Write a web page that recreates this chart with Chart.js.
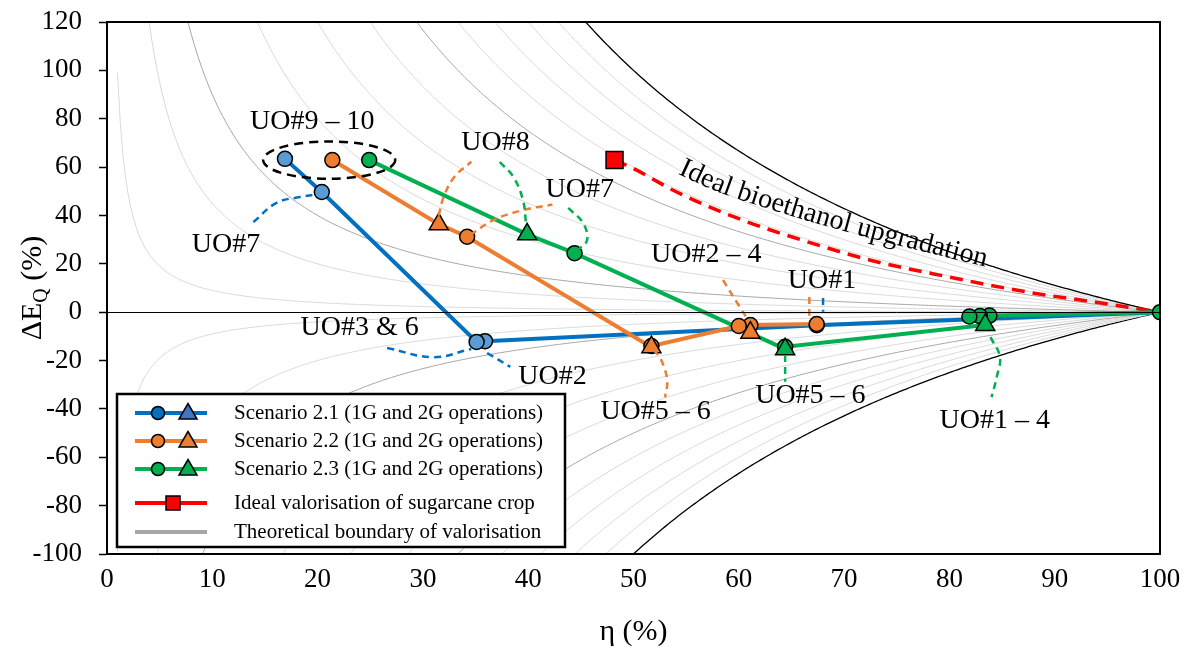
<!DOCTYPE html>
<html>
<head>
<meta charset="utf-8">
<script src="https://cdn.jsdelivr.net/npm/chart.js@4.4.1/dist/chart.umd.min.js"></script>
<style>
  html, body { margin: 0; padding: 0; background: #ffffff; }
  #wrap { width: 1192px; height: 648px; }
</style>
</head>
<body>
<div id="wrap"><canvas id="chart" width="1192" height="648"></canvas></div>
<script>
// ---- Axis ticks ----
const etaTicks = [0, 10, 20, 30, 40, 50, 60, 70, 80, 90, 100];
const deltaTicks = [-100, -80, -60, -40, -20, 0, 20, 40, 60, 80, 100, 120];

// ---- Scenario 2.1 (1G and 2G operations), from the raw crop at (100, 0) ----
const s21Eta    = [100, 67.4, 35.9, 35.1, 20.4, 16.9];
const s21DeltaQ = [0, -5.4, -12.0, -12.3, 49.7, 63.4];
const s21Shape  = ['none', 'circle', 'circle', 'circle', 'circle', 'circle'];

// ---- Scenario 2.2 ----
const s22Eta    = [67.4, 61.1, 61.1, 60.0, 51.7, 51.7, 34.2, 31.5, 21.4];
const s22DeltaQ = [-4.9, -5.3, -8.5, -5.7, -14.0, -14.5, 31.2, 36.4, 62.9];
const s22Shape  = ['circle', 'circle', 'triangle', 'circle', 'circle', 'triangle', 'circle', 'triangle', 'circle'];

// ---- Scenario 2.3 ----
const s23Eta    = [100, 83.8, 82.9, 81.9, 83.4, 64.4, 64.4, 44.4, 39.9, 24.9];
const s23DeltaQ = [0, -1.4, -1.6, -1.8, -5.3, -14.3, -15.3, 24.4, 32.2, 62.9];
const s23Shape  = ['circle', 'circle', 'circle', 'circle', 'triangle', 'circle', 'triangle', 'circle', 'triangle', 'circle'];

// ---- Ideal valorisation of the sugarcane crop (bioethanol upgradation path) ----
const idealEta    = [48.2, 50.0, 54.1, 60.4, 66.6, 72.5, 79.9, 87.3, 94.7, 100];
const idealDeltaQ = [62.9, 59.4, 49.7, 38.0, 29.0, 21.5, 14.6, 8.4, 3.6, 0];

// ---- Theoretical boundary family: ΔE_Q = k·(100/η − 1)·100 ----
const boundaryLevels = [1, 0.9, 0.8, 0.7, 0.6, 0.5, 0.4, 0.3, 0.2, 0.1, 0.05, 0.01,
                        -0.01, -0.05, -0.1, -0.2, -0.3, -0.4, -0.5, -0.6, -0.7, -0.8, -0.9, -1];
const boundaryStrong = [0.1, 0.5, -0.1, -0.5];

// ---- Call-out leaders [η, ΔE_Q] ----
const leadUO8Orange   = [[31.5, 40.0], [32.0, 48.0], [33.0, 56.0], [34.6, 62.2]];
const leadUO8Green    = [[37.3, 62.1], [38.6, 55.9], [39.5, 46.4], [39.8, 36.5]];
const leadUO7Orange   = [[34.5, 31.9], [36.7, 38.1], [39.5, 42.2], [42.3, 44.5]];
const leadUO7Green    = [[43.8, 43.1], [45.2, 36.9], [45.6, 29.9], [44.8, 26.0]];
const leadUO7Blue     = [[13.9, 37.3], [16.1, 45.2], [18.3, 47.6], [19.8, 48.6]];
const leadUO36Blue    = [[26.6, -14.8], [31.0, -18.6], [34.6, -15.2]];
const leadUO2Blue     = [[36.1, -16.9], [38.3, -22.6]];
const leadUO24Orange  = [[58.5, 13.3], [60.1, 2.1], [60.9, -3.3]];
const leadUO1Orange   = [[66.7, 6.3], [66.7, -2.4]];
const leadUO1Blue     = [[68.0, 5.9], [68.0, 0.2]];
const leadUO56Orange  = [[51.9, -15.5], [52.6, -19.5], [53.2, -28.2], [53.0, -35.2]];
const leadUO56Green   = [[64.4, -17.7], [64.4, -28.8]];
const leadUO14Green   = [[83.9, -10.3], [84.8, -18.5], [84.5, -26.8], [84.0, -35.1]];

// ---- Call-out texts [label, η, ΔE_Q] ----
const calloutText = ['UO#9 – 10', 'UO#8', 'UO#7', 'UO#7', 'UO#3 & 6', 'UO#2', 'UO#2 – 4', 'UO#1', 'UO#5 – 6', 'UO#5 – 6', 'UO#1 – 4'];
const calloutEta  = [19.5, 36.9, 44.9, 11.3, 24.0, 42.3, 56.9, 67.9, 52.1, 66.8, 84.3];
const calloutDQ   = [78.6, 70.0, 50.5, 27.8, -6.5, -26.8, 23.7, 12.9, -41.0, -34.4, -44.9];

// UO#9 – 10 grouping ellipse: centre and half-axes in data units
const groupCentre = [21.1, 62.9];
const groupHalfAxes = [6.27, 7.7];

// Baseline of the curved "Ideal bioethanol upgradation" caption
const captionText = 'Ideal bioethanol upgradation';
const captionEta = [54.2, 59.4, 70.3, 83.9];
const captionDQ  = [57.2, 47.6, 33.2, 18.3];

const SERIF = '"Liberation Serif", "Times New Roman", serif';
const BLUE = '#0070C0', BLUE_PT = '#5B9BD5', ORANGE = '#ED7D31', GREEN = '#00B050', RED = '#FF0000';

function toXY(xs, ys) { return xs.map((x, i) => ({ x: x, y: ys[i] })); }
function pairsToXY(p) { return p.map(v => ({ x: v[0], y: v[1] })); }

function boundaryCurve(k) {
  const pts = [];
  for (let eta = 1; eta <= 100.001; eta += 0.25) {
    const v = k * (100 / eta - 1) * 100;
    if (Math.abs(v) < 3000) pts.push({ x: eta, y: v });
  }
  return pts;
}

const datasets = [];

boundaryLevels.forEach(k => {
  const strong = boundaryStrong.includes(k);
  const edge = Math.abs(k) === 1;
  datasets.push({
    data: boundaryCurve(k), showLine: true, pointRadius: 0,
    borderColor: edge ? '#000000' : (strong ? '#A6A6A6' : '#D9D9D9'),
    borderWidth: edge ? 1.3 : 1, order: 100
  });
});

datasets.push({
  data: toXY(idealEta, idealDeltaQ), showLine: true,
  borderColor: RED, borderWidth: 3.5, borderDash: [13, 8], cubicInterpolationMode: 'monotone',
  pointStyle: 'rect', pointRadius: idealEta.map((v, i) => i === 0 ? 12 : 0),
  pointBackgroundColor: RED, pointBorderColor: '#000000', pointBorderWidth: 1.5, order: 50
});

// Each scenario: the path first, markers later so every marker sits above every path
function scenarioLine(xs, ys, color, order) {
  return { data: toXY(xs, ys), showLine: true, borderColor: color, borderWidth: 4, pointRadius: 0, order: order };
}
function scenarioMarkers(xs, ys, shapes, circleFill, triFill, order) {
  return {
    data: toXY(xs, ys), showLine: false,
    pointStyle: shapes.map(s => s === 'none' ? 'circle' : s),
    pointRadius: shapes.map(s => s === 'none' ? 0 : (s === 'triangle' ? 11 : 7.5)),
    pointBackgroundColor: shapes.map(s => s === 'triangle' ? triFill : circleFill),
    pointBorderColor: '#000000', pointBorderWidth: 1.5, order: order
  };
}
datasets.push(scenarioLine(s21Eta, s21DeltaQ, BLUE, 45));
datasets.push(scenarioLine(s22Eta, s22DeltaQ, ORANGE, 44));
datasets.push(scenarioLine(s23Eta, s23DeltaQ, GREEN, 43));
datasets.push(scenarioMarkers(s21Eta, s21DeltaQ, s21Shape, BLUE_PT, '#4472C4', 35));
datasets.push(scenarioMarkers(s22Eta, s22DeltaQ, s22Shape, ORANGE, ORANGE, 34));
datasets.push(scenarioMarkers(s23Eta, s23DeltaQ, s23Shape, GREEN, GREEN, 33));

function leader(p, color) {
  return { data: pairsToXY(p), showLine: true, borderColor: color, borderWidth: 2.5,
           borderDash: [7, 5], tension: 0.4, pointRadius: 0, order: 10 };
}
[[leadUO8Orange, ORANGE], [leadUO8Green, GREEN], [leadUO7Orange, ORANGE], [leadUO7Green, GREEN],
 [leadUO7Blue, BLUE], [leadUO36Blue, BLUE], [leadUO2Blue, BLUE], [leadUO24Orange, ORANGE],
 [leadUO1Orange, ORANGE], [leadUO1Blue, BLUE], [leadUO56Orange, ORANGE], [leadUO56Green, GREEN],
 [leadUO14Green, GREEN]].forEach(l => datasets.push(leader(l[0], l[1])));

// Smooth path through pixel points (Catmull-Rom), returned as a dense polyline
function densePath(pts) {
  const out = [];
  for (let i = 0; i < pts.length - 1; i++) {
    const p0 = pts[Math.max(i - 1, 0)], p1 = pts[i], p2 = pts[i + 1], p3 = pts[Math.min(i + 2, pts.length - 1)];
    for (let s = 0; s < 20; s++) {
      const t = s / 20, t2 = t * t, t3 = t2 * t;
      const f = (a, b, c, d) => 0.5 * (2 * b + (-a + c) * t + (2 * a - 5 * b + 4 * c - d) * t2 + (-a + 3 * b - 3 * c + d) * t3);
      out.push({ x: f(p0.x, p1.x, p2.x, p3.x), y: f(p0.y, p1.y, p2.y, p3.y) });
    }
  }
  out.push(pts[pts.length - 1]);
  return out;
}

function textOnPath(ctx, text, pts) {
  const d = densePath(pts);
  const cum = [0];
  for (let i = 1; i < d.length; i++) cum.push(cum[i - 1] + Math.hypot(d[i].x - d[i - 1].x, d[i].y - d[i - 1].y));
  const at = s => {
    let i = 1;
    while (i < d.length - 1 && cum[i] < s) i++;
    const a = d[i - 1], b = d[i];
    const seg = cum[i] - cum[i - 1] || 1;
    const t = (s - cum[i - 1]) / seg;
    return { x: a.x + (b.x - a.x) * t, y: a.y + (b.y - a.y) * t, ang: Math.atan2(b.y - a.y, b.x - a.x) };
  };
  let s = 0;
  for (const ch of text) {
    const w = ctx.measureText(ch).width;
    const p = at(s + w / 2);
    ctx.save();
    ctx.translate(p.x, p.y);
    ctx.rotate(p.ang);
    ctx.fillText(ch, -w / 2, 0);
    ctx.restore();
    s += w;
  }
}

const decorations = {
  id: 'decorations',
  afterDatasetsDraw(chart) {
    const { ctx, chartArea: a, scales: { x, y } } = chart;
    ctx.save();

    // zero line
    ctx.strokeStyle = '#000000'; ctx.lineWidth = 1;
    ctx.beginPath(); ctx.moveTo(a.left, Math.round(y.getPixelForValue(0)) + 0.5);
    ctx.lineTo(a.right, Math.round(y.getPixelForValue(0)) + 0.5); ctx.stroke();

    // grouping ellipse around UO#9 – 10
    const cx = x.getPixelForValue(groupCentre[0]), cy = y.getPixelForValue(groupCentre[1]);
    const rx = x.getPixelForValue(groupCentre[0] + groupHalfAxes[0]) - cx;
    const ry = cy - y.getPixelForValue(groupCentre[1] + groupHalfAxes[1]);
    ctx.setLineDash([9, 6]); ctx.lineWidth = 2.5; ctx.strokeStyle = '#000000';
    ctx.beginPath(); ctx.ellipse(cx, cy, rx, ry, 0, 0, Math.PI * 2); ctx.stroke();
    ctx.setLineDash([]);

    // call-out texts
    ctx.fillStyle = '#000000';
    ctx.font = '28px ' + SERIF;
    ctx.textAlign = 'center'; ctx.textBaseline = 'middle';
    calloutText.forEach((t, i) => ctx.fillText(t, x.getPixelForValue(calloutEta[i]), y.getPixelForValue(calloutDQ[i])));

    // curved caption
    ctx.textAlign = 'left'; ctx.textBaseline = 'alphabetic';
    const path = captionEta.map((e, i) => ({ x: x.getPixelForValue(e), y: y.getPixelForValue(captionDQ[i]) }));
    textOnPath(ctx, captionText, path);

    // plot frame
    ctx.lineWidth = 2; ctx.strokeStyle = '#000000';
    ctx.strokeRect(a.left, a.top, a.right - a.left, a.bottom - a.top);

    // legend
    const lx = a.left + 10, ly = a.bottom - 160, lw = 448, lh = 153;
    ctx.fillStyle = '#ffffff'; ctx.fillRect(lx, ly, lw, lh);
    ctx.lineWidth = 2.5; ctx.strokeRect(lx, ly, lw, lh);
    const rows = [
      { t: 'Scenario 2.1 (1G and 2G operations)', c: BLUE, m: [['circle', BLUE], ['triangle', '#4472C4']], dy: 19 },
      { t: 'Scenario 2.2 (1G and 2G operations)', c: ORANGE, m: [['circle', ORANGE], ['triangle', ORANGE]], dy: 47 },
      { t: 'Scenario 2.3 (1G and 2G operations)', c: GREEN, m: [['circle', GREEN], ['triangle', GREEN]], dy: 75 },
      { t: 'Ideal valorisation of sugarcane crop', c: RED, m: [['rect', RED]], dy: 109 },
      { t: 'Theoretical boundary of valorisation', c: '#A6A6A6', m: [], dy: 138 }
    ];
    ctx.font = '21px ' + SERIF; ctx.textBaseline = 'middle'; ctx.textAlign = 'left';
    rows.forEach(r => {
      const yy = ly + r.dy;
      ctx.strokeStyle = r.c; ctx.lineWidth = 4;
      ctx.beginPath(); ctx.moveTo(lx + 18, yy); ctx.lineTo(lx + 90, yy); ctx.stroke();
      ctx.lineWidth = 1.5; ctx.strokeStyle = '#000000';
      if (r.m.length === 2) {
        ctx.fillStyle = r.m[0][1];
        ctx.beginPath(); ctx.arc(lx + 41, yy, 6.5, 0, Math.PI * 2); ctx.fill(); ctx.stroke();
        ctx.fillStyle = r.m[1][1];
        const tx = lx + 71, tr = 10;
        ctx.beginPath(); ctx.moveTo(tx, yy - tr * 0.95); ctx.lineTo(tx + tr * 0.9, yy + tr * 0.6);
        ctx.lineTo(tx - tr * 0.9, yy + tr * 0.6); ctx.closePath(); ctx.fill(); ctx.stroke();
      } else if (r.m.length === 1) {
        ctx.fillStyle = r.m[0][1];
        ctx.fillRect(lx + 49, yy - 7, 14, 14); ctx.strokeRect(lx + 49, yy - 7, 14, 14);
      }
      ctx.fillStyle = '#000000';
      ctx.fillText(r.t, lx + 117, yy);
    });

    // axis titles
    ctx.font = '30px ' + SERIF; ctx.textAlign = 'center'; ctx.textBaseline = 'middle';
    ctx.fillText('η (%)', (a.left + a.right) / 2, 632);

    ctx.translate(31, (a.top + a.bottom) / 2);
    ctx.rotate(-Math.PI / 2);
    ctx.textAlign = 'left'; ctx.textBaseline = 'alphabetic';
    ctx.font = '30px ' + SERIF; const w1 = ctx.measureText('ΔE').width;
    ctx.font = '20px ' + SERIF; const wq = ctx.measureText('Q').width;
    ctx.font = '30px ' + SERIF; const w2 = ctx.measureText(' (%)').width;
    let sx = -(w1 + wq + w2) / 2;
    ctx.fillText('ΔE', sx, 10); sx += w1;
    ctx.font = '20px ' + SERIF; ctx.fillText('Q', sx, 16); sx += wq;
    ctx.font = '30px ' + SERIF; ctx.fillText(' (%)', sx, 10);
    ctx.restore();
  }
};

new Chart(document.getElementById('chart'), {
  type: 'scatter',
  data: { datasets: datasets },
  options: {
    responsive: false, animation: false, devicePixelRatio: 1,
    layout: { padding: { top: 22, right: 32, left: 0, bottom: 0 } },
    plugins: { legend: { display: false }, tooltip: { enabled: false } },
    scales: {
      x: {
        type: 'linear', min: 0, max: 100,
        afterBuildTicks: s => { s.ticks = etaTicks.map(v => ({ value: v })); },
        ticks: { color: '#000000', font: { family: SERIF, size: 27 }, padding: 10, maxRotation: 0 },
        grid: { drawOnChartArea: false, drawTicks: false },
        border: { display: true, color: '#000000', width: 2 },
        afterFit: s => { s.height = 94; s.paddingLeft = 0; s.paddingRight = 0; }
      },
      y: {
        type: 'linear', min: -100, max: 120,
        afterBuildTicks: s => { s.ticks = deltaTicks.map(v => ({ value: v })); },
        ticks: { color: '#000000', font: { family: SERIF, size: 27 }, padding: 17 },
        grid: { drawOnChartArea: false, drawTicks: true, tickLength: 8, tickColor: '#000000', tickWidth: 1.5 },
        border: { display: true, color: '#000000', width: 2 },
        afterFit: s => { s.width = 107; s.paddingTop = 0; s.paddingBottom = 0; }
      }
    }
  },
  plugins: [decorations]
});
</script>
</body>
</html>
